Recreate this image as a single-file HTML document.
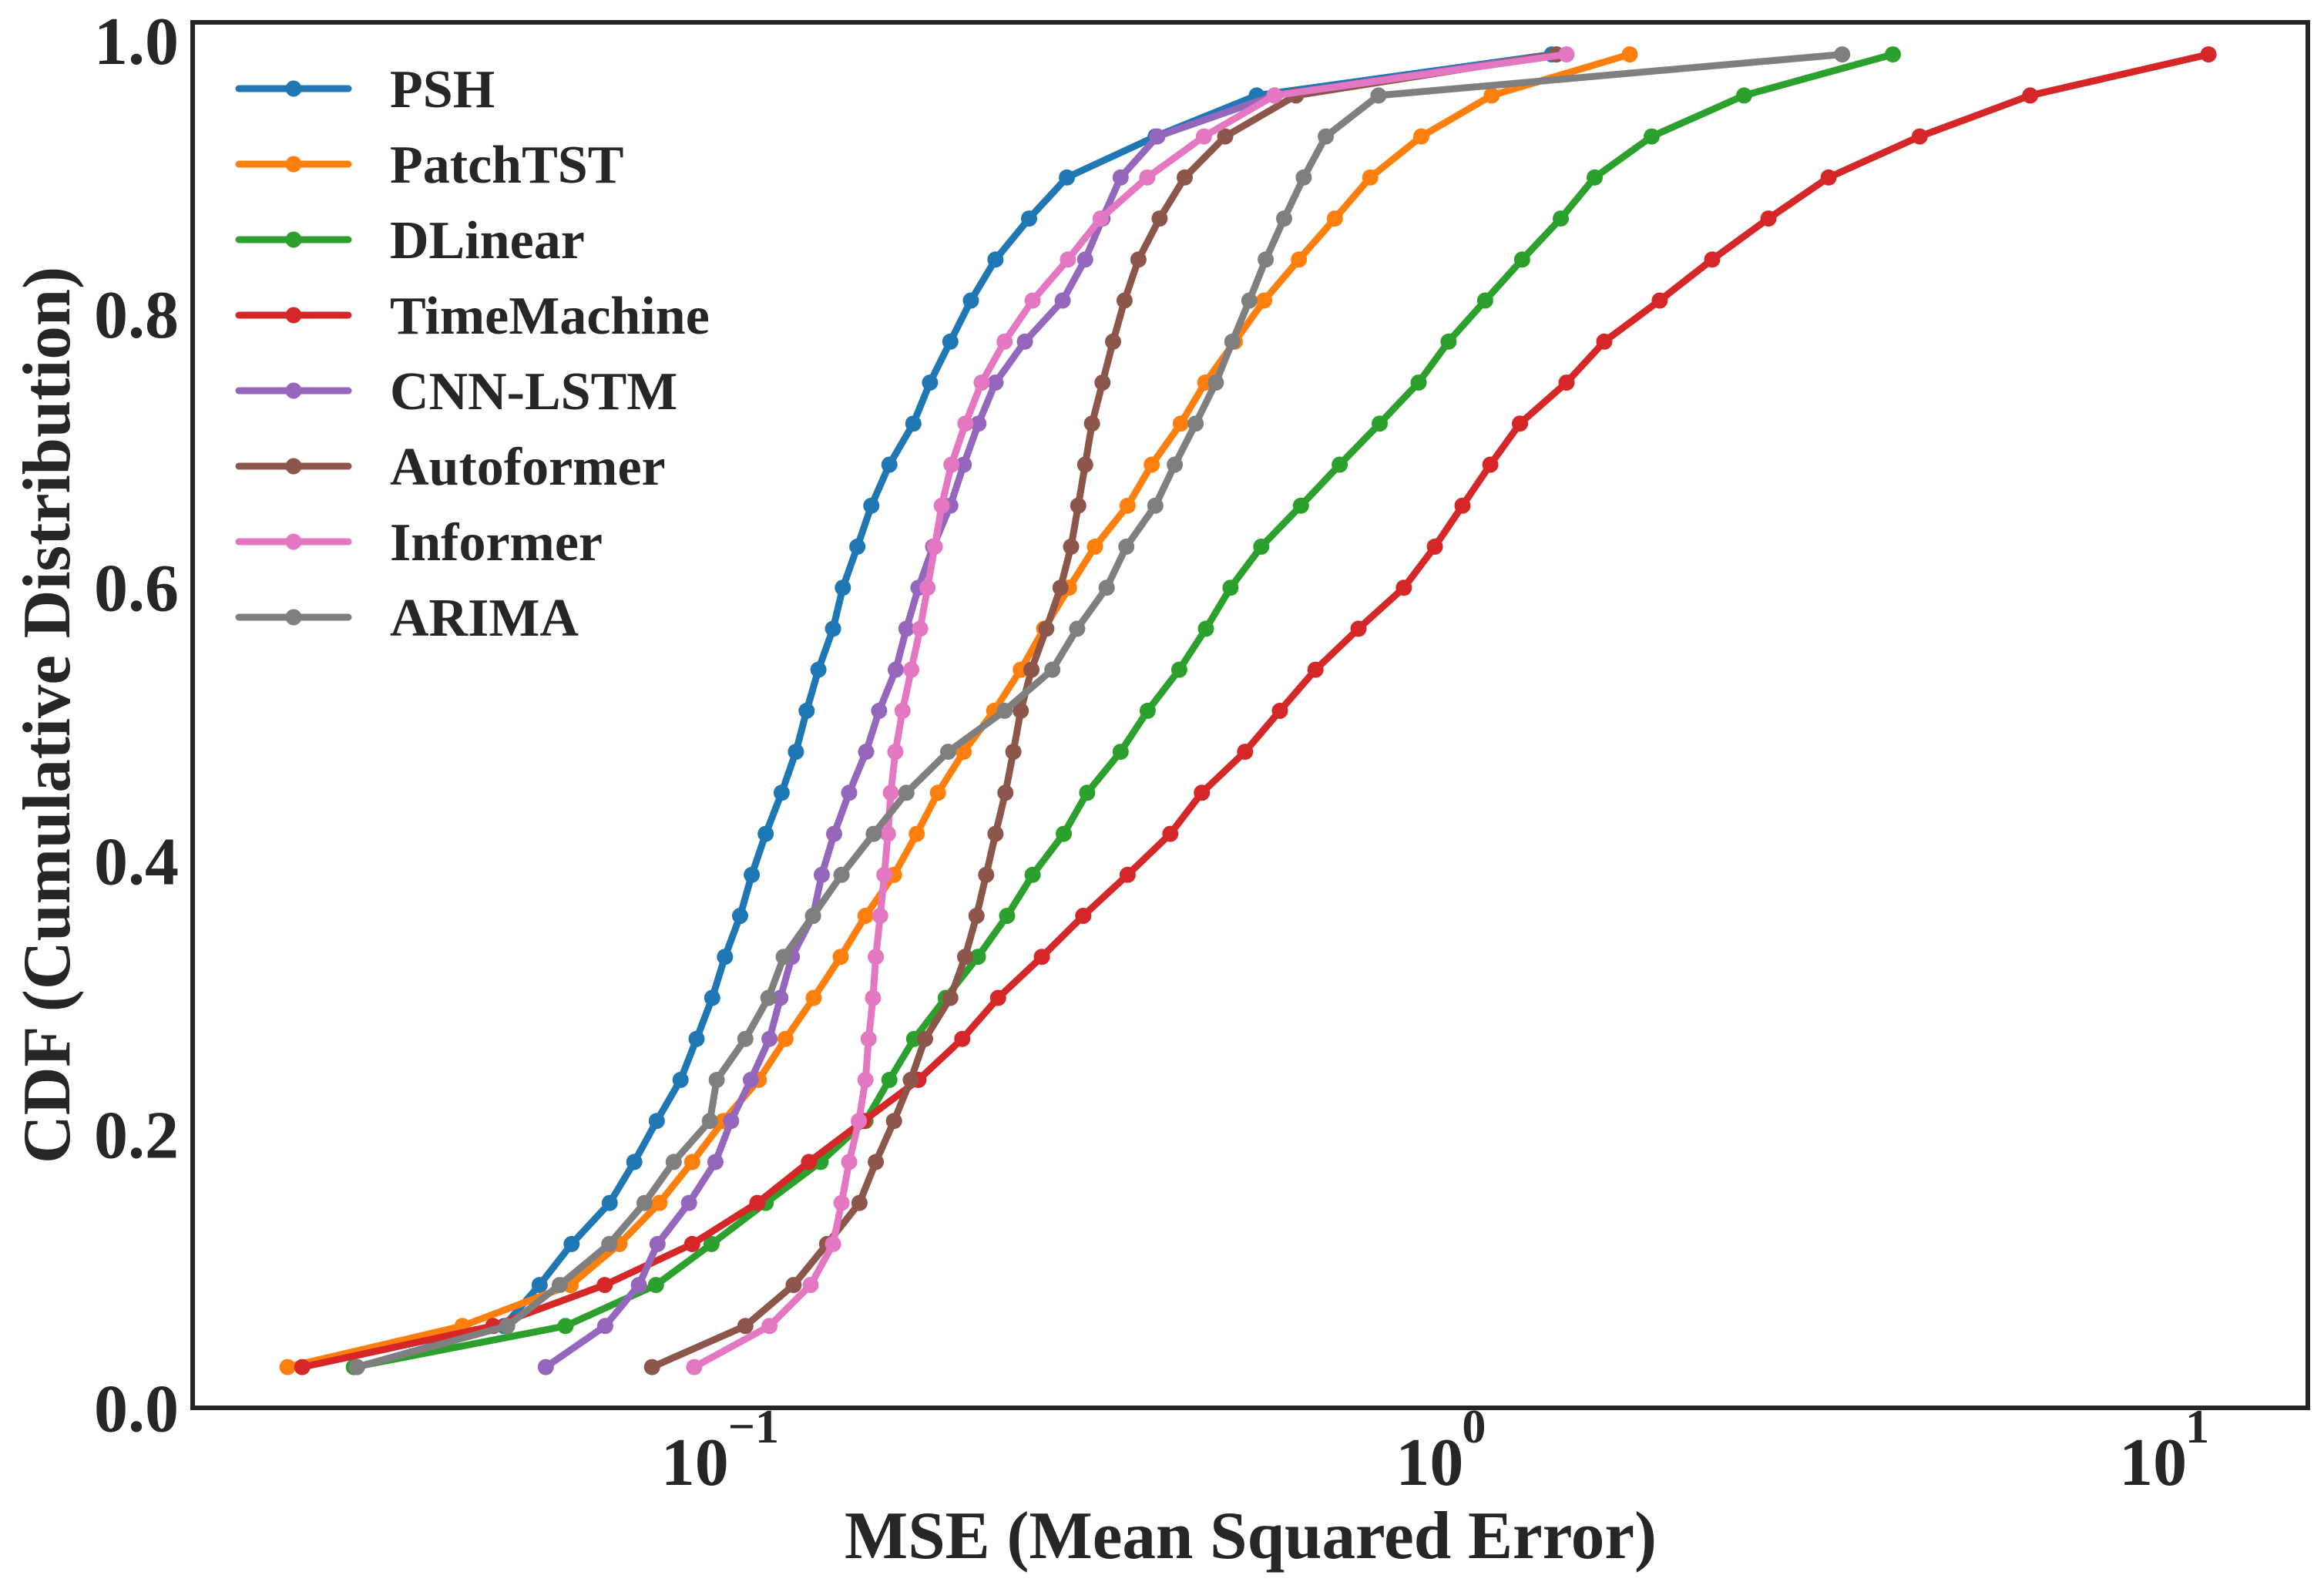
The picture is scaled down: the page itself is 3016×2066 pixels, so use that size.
<!DOCTYPE html>
<html><head><meta charset="utf-8"><style>
html,body{margin:0;padding:0;background:#fff;}
svg{display:block;}
text{font-family:"Liberation Serif",serif;font-weight:bold;fill:#262626;}
</style></head><body>
<svg id="chart" width="3016" height="2066" viewBox="0 0 3016 2066" xmlns="http://www.w3.org/2000/svg">
<rect x="0" y="0" width="3016" height="2066" fill="#fff"/>
<g id="series"></g>
<rect x="250" y="29" width="2745" height="1798" fill="none" stroke="#262626" stroke-width="6"/>
<g id="yticks"></g>
<g id="xticks"></g>
<text x="1623" y="2022" font-size="88" text-anchor="middle" textLength="1054" lengthAdjust="spacingAndGlyphs">MSE (Mean Squared Error)</text>
<text transform="translate(90,928) rotate(-90)" x="0" y="0" font-size="88" text-anchor="middle" textLength="1164" lengthAdjust="spacingAndGlyphs">CDF (Cumulative Distribution)</text>
<g id="legend"></g>
</svg>
<script>
const cdf = [0.03,0.06,0.09,0.12,0.15,0.18,0.21,0.24,0.27,0.30,0.33,0.36,0.39,0.42,0.45,0.48,0.51,0.54,0.57,0.60,0.63,0.66,0.69,0.72,0.75,0.78,0.81,0.84,0.87,0.90,0.93,0.96,0.99];
const seriesNames = ["PSH","PatchTST","DLinear","TimeMachine","CNN-LSTM","Autoformer","Informer","ARIMA"];
const seriesColors = ["#1f77b4","#ff7f0e","#2ca02c","#d62728","#9467bd","#8c564b","#e377c2","#7f7f7f"];
const psh = [0.0313,0.050,0.056,0.062,0.070,0.0757,0.0813,0.0877,0.0923,0.097,0.101,0.106,0.110,0.115,0.121,0.1266,0.131,0.136,0.1425,0.147,0.154,0.161,0.1705,0.184,0.194,0.207,0.221,0.239,0.266,0.300,0.398,0.549,1.405];
const patchtst = [0.0251,0.0438,0.0618,0.0722,0.0820,0.0910,0.1005,0.1125,0.1225,0.134,0.146,0.158,0.173,0.186,0.199,0.216,0.238,0.259,0.279,0.302,0.328,0.364,0.393,0.431,0.466,0.512,0.562,0.628,0.704,0.788,0.927,1.16,1.80];
const dlinear = [0.0310,0.0608,0.0811,0.0968,0.115,0.137,0.158,0.1705,0.1845,0.204,0.226,0.248,0.269,0.297,0.320,0.356,0.388,0.429,0.467,0.505,0.557,0.632,0.715,0.812,0.919,1.011,1.136,1.278,1.445,1.61,1.93,2.59,4.16];
const timemachine = [0.0263,0.0483,0.0689,0.091,0.112,0.132,0.157,0.187,0.215,0.241,0.277,0.316,0.364,0.417,0.461,0.529,0.591,0.662,0.759,0.877,0.968,1.057,1.155,1.269,1.472,1.66,1.98,2.34,2.80,3.39,4.53,6.44,11.36];
const cnnlstm = [0.0571,0.069,0.0768,0.0815,0.0901,0.098,0.103,0.1097,0.1164,0.1205,0.125,0.1337,0.1375,0.143,0.150,0.1583,0.165,0.174,0.180,0.187,0.196,0.207,0.216,0.2264,0.239,0.2625,0.296,0.318,0.336,0.356,0.400,0.581,1.425];
const autoformer = [0.0801,0.1078,0.1257,0.1398,0.155,0.1633,0.173,0.1825,0.191,0.207,0.217,0.225,0.232,0.239,0.2467,0.253,0.259,0.268,0.281,0.294,0.304,0.311,0.318,0.325,0.336,0.3475,0.3604,0.3767,0.403,0.4365,0.4966,0.622,1.425];
const informer = [0.0916,0.1164,0.1327,0.1425,0.1464,0.150,0.1547,0.158,0.1596,0.1618,0.1633,0.1656,0.1678,0.1697,0.1713,0.1738,0.1778,0.1828,0.188,0.1925,0.197,0.2014,0.2077,0.2172,0.2287,0.246,0.269,0.301,0.334,0.3875,0.464,0.581,1.472];
const arima = [0.0313,0.0505,0.0597,0.0699,0.0782,0.0858,0.0963,0.0984,0.1078,0.116,0.1218,0.1337,0.1464,0.1622,0.180,0.2056,0.246,0.2864,0.310,0.3405,0.3625,0.3975,0.423,0.452,0.482,0.508,0.5363,0.565,0.599,0.6375,0.684,0.809,3.54];
const yTicks = [0.0,0.2,0.4,0.6,0.8,1.0];
const yTickLabels = ["0.0","0.2","0.4","0.6","0.8","1.0"];
const xTickExps = [-1,0,1];

const allSeries = [psh,patchtst,dlinear,timemachine,cnnlstm,autoformer,informer,arima];
const NS = "http://www.w3.org/2000/svg";
function xScale(v){ return 1875.4 + 938.7*Math.log10(v); }
function yScale(p){ return 1827.3 - p*1774.4; }
function mk(tag, attrs){ const e=document.createElementNS(NS,tag); for(const k in attrs) e.setAttribute(k,attrs[k]); return e; }

const gS = document.getElementById('series');
allSeries.forEach((vals, si) => {
  const g = mk('g', {});
  
  
  const pts = vals.map((v,i)=> xScale(v).toFixed(1)+','+yScale(cdf[i]).toFixed(1)).join(' ');
  const pl = mk('polyline', {points:pts, fill:'none', stroke:seriesColors[si], 'stroke-width':9, 'stroke-linejoin':'round', 'stroke-linecap':'round'});
  
  
  g.appendChild(pl);
  vals.forEach((v,i)=>{
    const c = mk('circle', {cx:xScale(v).toFixed(1), cy:yScale(cdf[i]).toFixed(1), r:10.5, fill:seriesColors[si]});
    
    
    g.appendChild(c);
  });
  gS.appendChild(g);
});

const gY = document.getElementById('yticks');
yTicks.forEach((t,i)=>{
  const tx = mk('text', {x:232, y:(yScale(t)+30).toFixed(1), 'font-size':88, 'text-anchor':'end'});
  
  
  tx.textContent = yTickLabels[i];
  gY.appendChild(tx);
});

const gX = document.getElementById('xticks');
xTickExps.forEach(e=>{
  const x = xScale(Math.pow(10,e));
  const t = mk('text', {x:(x+(e<0?-35:-20)).toFixed(1), y:1927, 'font-size':88, 'text-anchor':'middle'});
  
  
  t.textContent = '10';
  gX.appendChild(t);
  const s = mk('text', {x:(x+(e<0?8:22)).toFixed(1), y:1872, 'font-size':62, 'text-anchor':'start'});
  
  
  s.textContent = e<0 ? '\u2212' + Math.abs(e) : String(e);
  gX.appendChild(s);
});

const gL = document.getElementById('legend');
seriesNames.forEach((n,i)=>{
  const y = 115 + i*98;
  const g = mk('g', {});
  
  
  g.appendChild(mk('line', {x1:310, y1:y, x2:452, y2:y, stroke:seriesColors[i], 'stroke-width':9, 'stroke-linecap':'round'}));
  g.appendChild(mk('circle', {cx:381, cy:y, r:10.5, fill:seriesColors[i]}));
  const t = mk('text', {x:506, y:y+24, 'font-size':70});
  t.textContent = n;
  g.appendChild(t);
  gL.appendChild(g);
});
</script>
</body></html>
